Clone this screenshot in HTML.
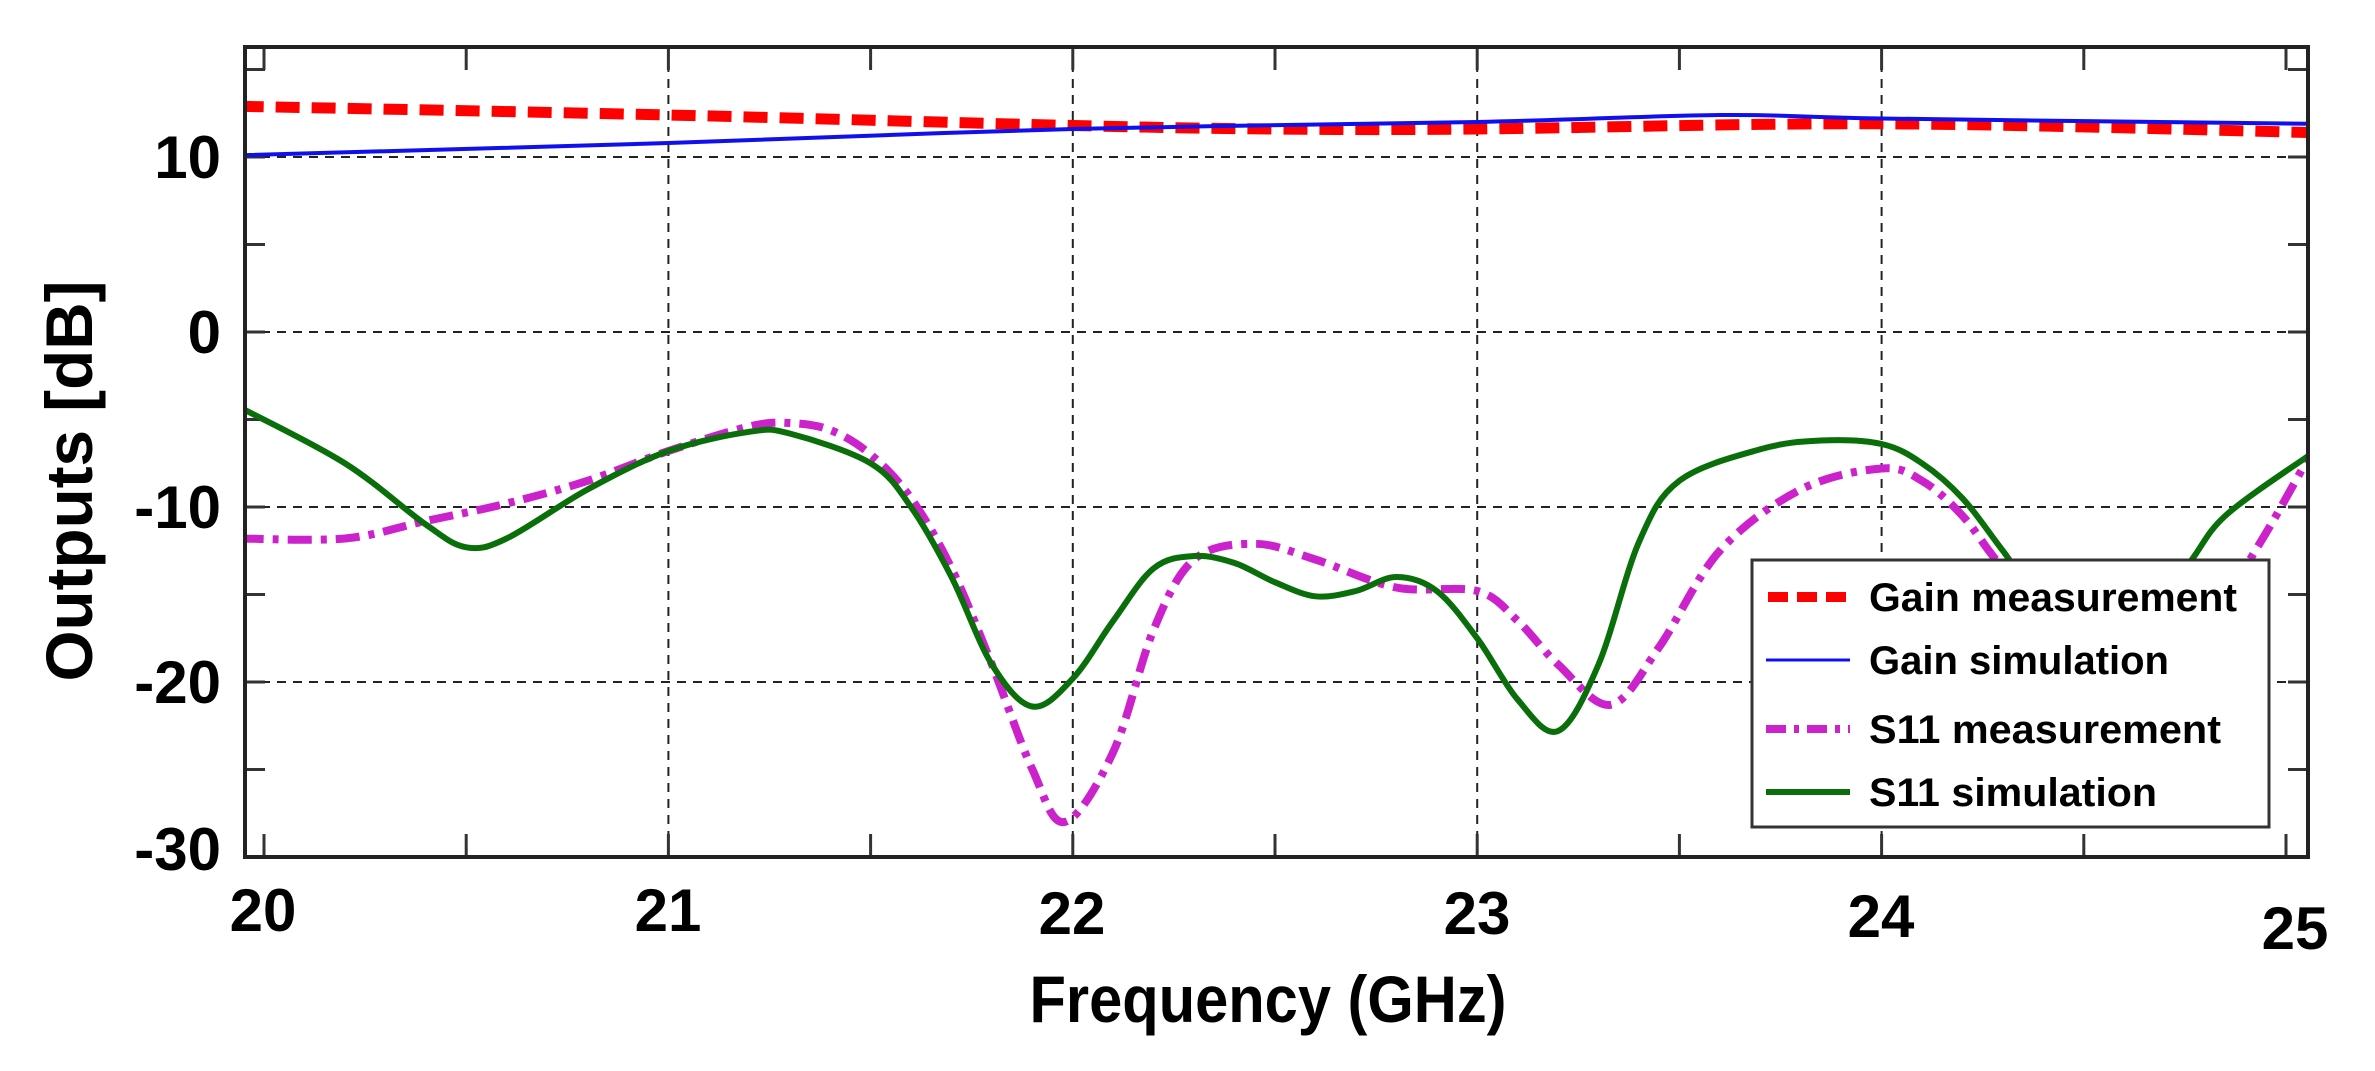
<!DOCTYPE html>
<html><head><meta charset="utf-8"><style>
html,body{margin:0;padding:0;background:#fff;}
svg{display:block;}
text{font-family:"Liberation Sans",Arial,sans-serif;font-weight:bold;fill:#000;}
</style></head><body>
<svg id="s" width="2375" height="1071" viewBox="0 0 2375 1071" xmlns="http://www.w3.org/2000/svg">
<defs><clipPath id="c"><rect x="245" y="47" width="2063" height="810"/></clipPath></defs>
<g id="grid" stroke="#222" stroke-width="2" stroke-dasharray="9,7"></g>
<g id="ticks" stroke="#333" stroke-width="3"></g>
<g clip-path="url(#c)" fill="none" stroke-linejoin="round">
<path id="red" stroke="#ff0000" stroke-width="11" stroke-dasharray="24,12"/>
<path id="blue" stroke="#1010ee" stroke-width="4"/>
<path id="mag" stroke="#cc22cc" stroke-width="8" stroke-dasharray="24,9,6,9"/>
<path id="grn" stroke="#0a6e0a" stroke-width="6"/>
</g>
<rect x="245" y="47" width="2063" height="810" fill="none" stroke="#222" stroke-width="4"/>
<g font-size="60" text-anchor="end">
<text x="221" y="178">10</text>
<text x="221" y="353">0</text>
<text x="221" y="528">-10</text>
<text x="221" y="703">-20</text>
<text x="221" y="870">-30</text>
</g>
<g font-size="60" text-anchor="middle">
<text x="263" y="931">20</text>
<text x="668" y="931">21</text>
<text x="1072" y="934">22</text>
<text x="1477" y="934">23</text>
<text x="1881" y="937">24</text>
<text x="2295" y="949">25</text>
</g>
<text x="1268" y="1022" font-size="66" text-anchor="middle" textLength="477" lengthAdjust="spacingAndGlyphs">Frequency (GHz)</text>
<text transform="translate(92,481) rotate(-90)" font-size="66" text-anchor="middle" textLength="401" lengthAdjust="spacingAndGlyphs">Outputs [dB]</text>
<rect x="1752" y="560" width="517" height="267" fill="#fff" stroke="#333" stroke-width="3"/>
<line x1="1768" y1="597" x2="1850" y2="597" stroke="#ff0000" stroke-width="10" stroke-dasharray="20,9"/>
<line x1="1766" y1="660" x2="1850" y2="660" stroke="#1010ee" stroke-width="3"/>
<line x1="1766" y1="729" x2="1850" y2="729" stroke="#cc22cc" stroke-width="8" stroke-dasharray="20,8,5,8"/>
<line x1="1766" y1="792" x2="1850" y2="792" stroke="#0a6e0a" stroke-width="6"/>
<g font-size="40">
<text x="1869" y="611" textLength="368" lengthAdjust="spacingAndGlyphs">Gain measurement</text>
<text x="1869" y="674" textLength="300" lengthAdjust="spacingAndGlyphs">Gain simulation</text>
<text x="1869" y="743" textLength="352" lengthAdjust="spacingAndGlyphs">S11 measurement</text>
<text x="1869" y="806" textLength="288" lengthAdjust="spacingAndGlyphs">S11 simulation</text>
</g>
</svg>
<script>
var X=function(f){return 264+(f-20)*404.4;},Y=function(d){return 332-d*17.5;};
function path(pts){
 var p=pts.map(function(a){return [X(a[0]),Y(a[1])];});
 var d="M"+p[0][0].toFixed(1)+","+p[0][1].toFixed(1);
 for(var i=0;i<p.length-1;i++){
  var p0=p[i-1]||p[i],p1=p[i],p2=p[i+1],p3=p[i+2]||p2;
  var c1=[p1[0]+(p2[0]-p0[0])/6,p1[1]+(p2[1]-p0[1])/6];
  var c2=[p2[0]-(p3[0]-p1[0])/6,p2[1]-(p3[1]-p1[1])/6];
  d+="C"+c1[0].toFixed(1)+","+c1[1].toFixed(1)+" "+c2[0].toFixed(1)+","+c2[1].toFixed(1)+" "+p2[0].toFixed(1)+","+p2[1].toFixed(1);
 }
 return d;
}
document.getElementById("red").setAttribute("d",path([[19.94,12.9],[21,12.4],[22,11.8],[22.5,11.6],[23,11.6],[24,11.9],[25.06,11.4]]));
document.getElementById("blue").setAttribute("d",path([[19.94,10.1],[21,10.8],[22,11.6],[23,12.0],[23.6,12.4],[24,12.2],[25.06,11.9]]));
document.getElementById("grn").setAttribute("d",path([[19.94,-4.3],[20.2,-7.5],[20.4,-11],[20.5,-12.3],[20.6,-11.8],[20.8,-9],[21,-6.8],[21.2,-5.7],[21.3,-5.8],[21.5,-7.5],[21.6,-10],[21.7,-14],[21.8,-19],[21.9,-21.4],[22,-19.8],[22.1,-16.5],[22.2,-13.5],[22.3,-12.8],[22.4,-13.2],[22.5,-14.3],[22.6,-15.1],[22.7,-14.8],[22.8,-14.0],[22.9,-14.8],[23,-17.5],[23.1,-21],[23.2,-22.8],[23.3,-19],[23.4,-12],[23.5,-8.5],[23.7,-6.7],[23.85,-6.2],[24,-6.4],[24.1,-7.5],[24.2,-9.5],[24.3,-12.5],[24.45,-17],[24.6,-17],[24.75,-13.5],[24.85,-10.5],[25.06,-7.0]]));
document.getElementById("mag").setAttribute("d",path([[19.94,-11.8],[20.2,-11.8],[20.4,-10.8],[20.6,-9.8],[20.8,-8.5],[21,-6.8],[21.2,-5.4],[21.3,-5.2],[21.4,-5.6],[21.5,-7],[21.6,-9.5],[21.7,-13.5],[21.8,-19],[21.9,-25],[21.98,-28],[22.1,-24],[22.2,-17],[22.3,-13],[22.45,-12.1],[22.6,-13],[22.8,-14.6],[23,-14.8],[23.1,-16.5],[23.2,-19],[23.33,-21.3],[23.45,-18],[23.6,-12.5],[23.8,-9],[24,-7.8],[24.1,-8.5],[24.2,-10.5],[24.3,-13.5],[24.5,-18.5],[24.7,-18.5],[24.85,-15],[24.95,-11.5],[25.06,-7]]));
var g=document.getElementById("grid"),t=document.getElementById("ticks"),ns="http://www.w3.org/2000/svg";
function ln(par,x1,y1,x2,y2){var l=document.createElementNS(ns,"line");l.setAttribute("x1",x1);l.setAttribute("y1",y1);l.setAttribute("x2",x2);l.setAttribute("y2",y2);par.appendChild(l);}
[21,22,23,24].forEach(function(f){ln(g,X(f),47,X(f),857);});
[10,0,-10,-20].forEach(function(d){ln(g,245,Y(d),2308,Y(d));});
for(var f=20;f<=25.01;f+=0.5){ln(t,X(f),47,X(f),70);ln(t,X(f),857,X(f),834);}
for(var d=-25;d<=15;d+=5){ln(t,245,Y(d),265,Y(d));ln(t,2308,Y(d),2288,Y(d));}
</script>
</body></html>
